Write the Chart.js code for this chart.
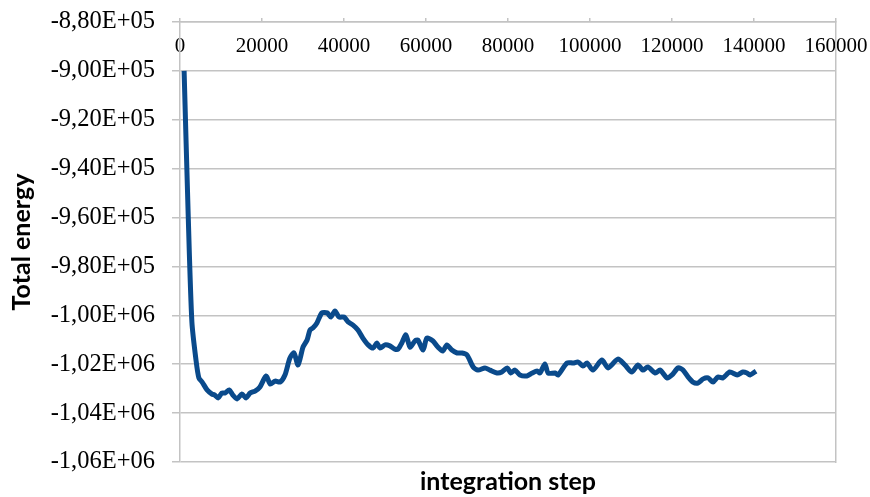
<!DOCTYPE html>
<html>
<head>
<meta charset="utf-8">
<script src="https://cdn.jsdelivr.net/npm/chart.js@4"></script>
<style>
html,body{margin:0;padding:0;background:#fff;}
#wrap{width:870px;height:497px;}
</style>
</head>
<body>
<div id="wrap"><canvas id="c" width="870" height="497"></canvas></div>
<script>
// integration step (x) and total energy (y)
const steps = [1000,2000,2900,3900,4600,5400,6600,7800,8500,9300,10200,11000,12000,12900,13900,15100,16100,17100,18300,19500,21000,22000,23200,24400,25600,26800,27800,28800,30000,31000,31700,32400,33400,34600,35900,36800,37800,38800,40000,41000,42200,43400,44600,45900,47100,48000,48800,50000,51200,52400,53200,54100,55100,56100,57300,58000,59300,60200,61700,62900,64100,65100,66300,67600,68800,70000,71500,72700,74400,75600,77300,78500,79800,80700,81700,82900,84600,85900,87100,87800,89000,89800,91500,92200,94400,95900,97100,98300,99300,100700,102900,104400,106800,108500,110200,111700,112900,114100,115900,117100,118800,120000,121500,122700,123900,125100,126300,127600,128800,130000,131200,132400,134100,135900,137300,138300,139000,140500];
const energy = [-900000,-959000,-1002700,-1018300,-1025600,-1027300,-1030500,-1032200,-1032600,-1033800,-1031800,-1031800,-1030500,-1032600,-1034200,-1032200,-1033800,-1031800,-1031000,-1029300,-1024800,-1028100,-1026900,-1027300,-1024400,-1017500,-1015400,-1020300,-1013000,-1010100,-1006000,-1005200,-1003100,-999000,-999000,-1000700,-998200,-1000700,-1000700,-1002700,-1004000,-1006000,-1009300,-1012100,-1013400,-1011300,-1013400,-1012100,-1012500,-1013800,-1013800,-1011300,-1008000,-1013000,-1010500,-1010100,-1014200,-1009300,-1010500,-1013000,-1014600,-1012100,-1014200,-1015400,-1015400,-1016200,-1021100,-1022400,-1021500,-1022400,-1023600,-1023200,-1021500,-1023600,-1022400,-1024400,-1024800,-1023600,-1022800,-1023600,-1019900,-1023600,-1023600,-1024400,-1019500,-1019500,-1019100,-1020700,-1019500,-1022400,-1018300,-1021500,-1017900,-1020300,-1023200,-1020300,-1022400,-1021100,-1023600,-1022400,-1025600,-1024400,-1021500,-1022400,-1025200,-1027300,-1027700,-1026000,-1025600,-1027300,-1025200,-1025600,-1023200,-1024400,-1023200,-1023600,-1024400,-1022800];

const xTickValues = [0,20000,40000,60000,80000,100000,120000,140000,160000];
const xTickLabels = ['0','20000','40000','60000','80000','100000','120000','140000','160000'];
const yTickValues = [-1060000,-1040000,-1020000,-1000000,-980000,-960000,-940000,-920000,-900000,-880000];
const yTickLabels = ['-1,06E+06','-1,04E+06','-1,02E+06','-1,00E+06','-9,80E+05','-9,60E+05','-9,40E+05','-9,20E+05','-9,00E+05','-8,80E+05'];
const xTitle = 'integration step';
const yTitle = 'Total energy';

const xLabelMap = {}; xTickValues.forEach((v,i)=>xLabelMap[v]=xTickLabels[i]);
const yLabelMap = {}; yTickValues.forEach((v,i)=>yLabelMap[v]=yTickLabels[i]);

const points = steps.map((s,i)=>({x:s,y:energy[i]}));
const gridCol = '#c3c3c3';
const noPad = s => { s.paddingLeft = 0; s.paddingRight = 0; s.paddingTop = 0; s.paddingBottom = 0; };

new Chart(document.getElementById('c'), {
  type: 'line',
  data: { datasets: [{
    data: points,
    borderColor: '#0a4a8b',
    borderWidth: 5,
    pointRadius: 0,
    tension: 0.25,
    fill: false,
    xAxisID: 'x', yAxisID: 'y'
  }]},
  options: {
    responsive: false,
    animation: false,
    devicePixelRatio: 1,
    layout: { padding: 0 },
    plugins: { legend: {display:false}, tooltip: {enabled:false} },
    scales: {
      x: {
        type: 'linear', position: 'top',
        min: xTickValues[0], max: xTickValues[xTickValues.length-1],
        afterBuildTicks: s => { s.ticks = xTickValues.map(v=>({value:v})); },
        afterFit: s => { s.height = 22; noPad(s); },
        ticks: {
          mirror: true, padding: 12, maxRotation: 0, autoSkip: false,
          color: '#000',
          font: { family: '"Liberation Serif", "Times New Roman", serif', size: 21 },
          callback: v => xLabelMap[v]
        },
        grid: { drawOnChartArea: false, tickLength: 4, color: gridCol, lineWidth: 1.5 },
        border: { display: true, color: gridCol, width: 1.5 }
      },
      xb: {
        type: 'linear', position: 'bottom',
        min: xTickValues[0], max: xTickValues[xTickValues.length-1],
        afterFit: s => { s.height = 35; noPad(s); },
        ticks: { display: false },
        grid: { display: false },
        border: { display: false },
        title: {
          display: true, text: xTitle, color: '#000',
          font: { family: 'Lato, "Open Sans", sans-serif', size: 25, weight: 'bold' },
          padding: { top: 0, bottom: 0 }
        }
      },
      y: {
        type: 'linear', position: 'left',
        min: yTickValues[0], max: yTickValues[yTickValues.length-1],
        afterBuildTicks: s => { s.ticks = yTickValues.map(v=>({value:v})); },
        afterFit: s => { s.width = 180; noPad(s); },
        ticks: {
          padding: 17, color: '#000',
          font: { family: '"Liberation Serif", "Times New Roman", serif', size: 24.5 },
          callback: v => yLabelMap[v]
        },
        grid: { tickLength: 8, color: gridCol, lineWidth: 1.5 },
        border: { display: true, color: gridCol, width: 1.5 },
        title: {
          display: true, text: yTitle, color: '#000',
          font: { family: 'Lato, "Open Sans", sans-serif', size: 25, weight: 'bold' },
          padding: { top: 7, bottom: 0 }
        }
      },
      yr: {
        type: 'linear', position: 'right',
        min: yTickValues[0], max: yTickValues[yTickValues.length-1],
        afterFit: s => { s.width = 34; noPad(s); },
        ticks: { display: false },
        grid: { display: false },
        border: { display: true, color: gridCol, width: 1.5 }
      }
    }
  }
});
</script>
</body>
</html>
